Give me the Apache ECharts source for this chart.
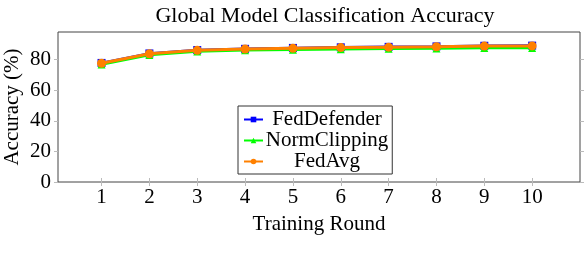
<!DOCTYPE html>
<html><head><meta charset="utf-8">
<script src="https://cdn.jsdelivr.net/npm/echarts@6/dist/echarts.min.js"></script>
<style>html,body{margin:0;padding:0;background:#fff}#c{width:586px;height:264px}</style>
</head><body><div id="c"></div>
<script>
const rounds = [1,2,3,4,5,6,7,8,9,10];
const xTicks = [1,2,3,4,5,6,7,8,9,10];
const yTicks = [0,20,40,60,80];
const fedDefender = [77.8,84.0,86.2,87.0,87.6,88.0,88.3,88.6,89.0,89.1];
const normClipping = [76.8,83.0,85.3,86.0,86.4,86.7,87.0,87.2,87.5,87.5];
const fedAvg = [77.6,83.8,86.0,86.9,87.4,87.8,88.1,88.4,88.8,88.9];

const F = 'Liberation Serif';
const FS = 21;
const chart = echarts.init(document.getElementById('c'));
const pairs = a => rounds.map((r,i)=>[r,a[i]]);
const tick = vals => ({show:true, length:4, inside:false, customValues:vals, lineStyle:{color:'#bbb', width:1}});
chart.setOption({
  animation:false,
  title:{text:'Global Model Classification Accuracy', left:320, textAlign:'center', top:0,
    textStyle:{fontFamily:F, fontWeight:'normal', fontSize:22, color:'#000'}},
  grid:{left:58, right:6, top:32, bottom:82, show:true, borderColor:'#444', borderWidth:1,
    containLabel:false, outerBoundsMode:'none'},
  legend:{orient:'vertical', left:238, top:106, padding:[3,4,2,5], itemGap:0, itemWidth:19, itemHeight:7,
    borderColor:'#333', borderWidth:1, backgroundColor:'#fff',
    formatter: n => '{a|'+n+'}',
    textStyle:{fontFamily:F, fontSize:FS, color:'#000', padding:[0,0,0,-2],
      rich:{a:{width:122, align:'center', lineHeight:21, fontFamily:F, fontSize:FS, color:'#000'}}},
    data:['FedDefender','NormClipping','FedAvg']},
  xAxis:[{type:'value', min:0.09, max:11, position:'bottom',
    axisLine:{show:false}, splitLine:{show:false}, axisTick:tick(xTicks),
    axisLabel:{fontFamily:F, fontSize:FS, color:'#000', margin:5, customValues:xTicks},
    name:'Training Round', nameLocation:'middle', nameGap:32, nameMoveOverlap:false,
    nameTextStyle:{fontFamily:F, fontSize:FS, color:'#000'}},
   {type:'value', min:0.09, max:11, position:'top',
    axisLine:{show:false}, splitLine:{show:false}, axisTick:tick(xTicks), axisLabel:{show:false}}],
  yAxis:[{type:'value', min:0, max:98,
    axisLine:{show:false}, splitLine:{show:false}, axisTick:tick(yTicks),
    axisLabel:{fontFamily:F, fontSize:FS, color:'#000', margin:7, customValues:yTicks},
    name:'Accuracy (%)', nameLocation:'middle', nameGap:35, nameMoveOverlap:false,
    nameTextStyle:{fontFamily:F, fontSize:FS, color:'#000'}},
   {type:'value', min:0, max:98, position:'right',
    axisLine:{show:false}, splitLine:{show:false}, axisTick:tick(yTicks), axisLabel:{show:false}}],
  series:[
    {name:'FedDefender', type:'line', data:pairs(fedDefender), symbol:'rect', symbolSize:8,
      lineStyle:{color:'#0000ff', width:2.5}, itemStyle:{color:'#0000ff'}, z:2},
    {name:'NormClipping', type:'line', data:pairs(normClipping), symbol:'triangle', symbolSize:8,
      lineStyle:{color:'#00ff00', width:2.5}, itemStyle:{color:'#00ff00'}, z:3},
    {name:'FedAvg', type:'line', data:pairs(fedAvg), symbol:'circle', symbolSize:9,
      lineStyle:{color:'#ff8000', width:3}, itemStyle:{color:'#ff8000'}, z:4}
  ]
});
</script></body></html>
